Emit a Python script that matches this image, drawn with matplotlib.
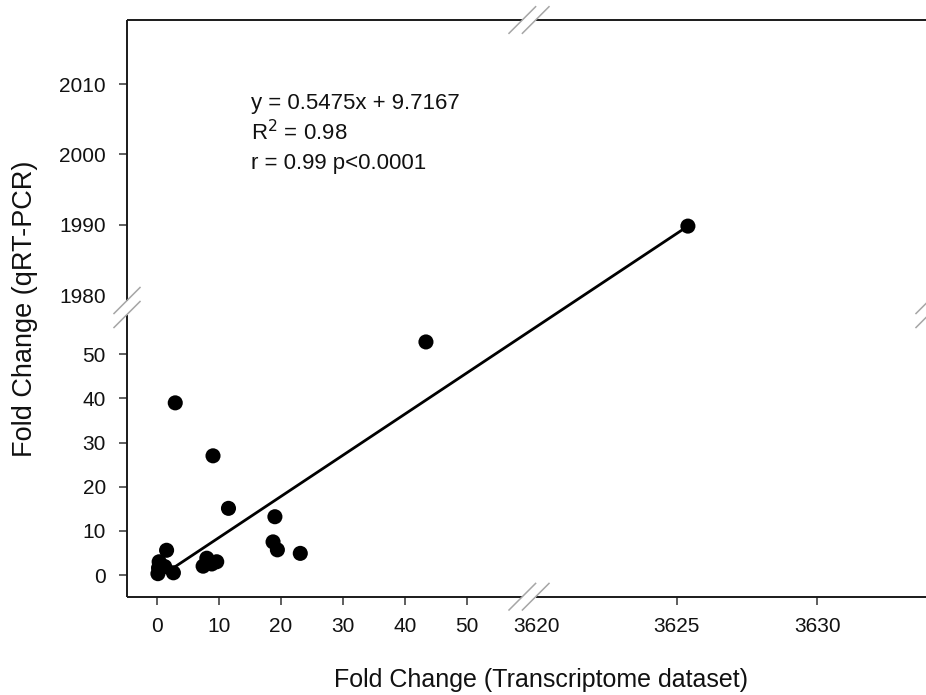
import numpy as np
import matplotlib
matplotlib.use('Agg')
import matplotlib.pyplot as plt
from matplotlib.lines import Line2D

plt.rcParams['font.family'] = ['Liberation Sans', 'DejaVu Sans']

# valores (transcriptoma vs qRT-PCR)
fold_transcriptoma = [0.1, 0.2, 0.3, 1.2, 1.5, 2.6, 2.9, 7.4, 8.0, 8.8, 9.6, 9.0,
                      11.5, 18.7, 19.0, 19.4, 23.1, 43.4, 3625.4]
fold_qpcr = [0.3, 1.6, 3.0, 1.9, 5.6, 0.5, 39.0, 2.0, 3.8, 2.5, 3.0, 27.0,
             15.1, 7.5, 13.2, 5.7, 4.9, 52.8, 1989.8]

# recta de regresion (extremos dibujados)
recta_x = [2.9, 3625.4]
recta_y = [1.9, 1989.8]

ticks_x = [0, 10, 20, 30, 40, 50, 3620, 3625, 3630]
ticks_y = [0, 10, 20, 30, 40, 50, 1980, 1990, 2000, 2010]
textos = ['y = 0.5475x + 9.7167', 'R$^2$ = 0.98', 'r = 0.99 p<0.0001']

W, H = 926, 695

# escalas con corte (en pixeles)
XP = [-1e4, 60, 3620, 1e5]
XF = [157.3 - 6.19e4, 157.3 + 6.19 * 60, 536, 536 + 28.13 * (1e5 - 3620)]
YP = [-1e4, 60, 1978, 1e5]
YF = [-4.414e4, 4.414 * 60, 280 - 7.03 * 2, 280 + 7.03 * (1e5 - 1980)]


def fx(v):
    return np.interp(v, XP, XF)


def ix(v):
    return np.interp(v, XF, XP)


def fy(v):
    return np.interp(v, YP, YF)


def iy(v):
    return np.interp(v, YF, YP)


izq, der, arriba, abajo = 127, 926, 20, 596.7

fig = plt.figure(figsize=(W / 100, H / 100), dpi=100)
ax = fig.add_axes([izq / W, (H - abajo) / H, (der - izq) / W, (abajo - arriba) / H])
ax.set_xscale('function', functions=(fx, ix))
ax.set_yscale('function', functions=(fy, iy))

ax.scatter(fold_transcriptoma, fold_qpcr, s=118, c='black', edgecolors='none', zorder=3)
ax.plot(recta_x, recta_y, color='black', lw=2.0, zorder=2)

ax.set_xlim(ix(izq), ix(der))
ax.set_ylim(iy(575 - abajo), iy(575 - arriba))

ax.set_xticks(ticks_x)
ax.set_xticklabels([str(t) for t in ticks_x])
ax.set_yticks(ticks_y)
ax.set_yticklabels([str(t) for t in ticks_y])
ax.tick_params(axis='both', direction='out', length=5.8, width=1.1, color='#333333',
               labelsize=15, labelcolor='#111111')
ax.tick_params(axis='x', pad=9)
ax.tick_params(axis='y', pad=9.5)
ax.xaxis.get_major_ticks()[ticks_x.index(3620)].tick1line.set_visible(False)
ax.yaxis.get_major_ticks()[ticks_y.index(1980)].tick1line.set_visible(False)

for s in ax.spines.values():
    s.set_visible(False)


def px(x, y):
    return x / W, (H - y) / H


def linea(x0, y0, x1, y1, **kw):
    a = px(x0, y0)
    b = px(x1, y1)
    fig.add_artist(Line2D([a[0], b[0]], [a[1], b[1]], transform=fig.transFigure, **kw))


ejes = dict(color='#1a1a1a', lw=1.4, solid_capstyle='butt')
# ejes con huecos del corte
linea(izq, arriba, 522.3, arriba, **ejes)
linea(535.7, arriba, der, arriba, **ejes)
linea(izq, abajo, 522.3, abajo, **ejes)
linea(535.7, abajo, der, abajo, **ejes)
linea(izq, arriba, izq, 300.5, **ejes)
linea(izq, 314.5, izq, abajo, **ejes)

marca = dict(color='#a6a6a6', lw=1.1)
for cx in (522.3, 535.7):
    for cy in (arriba, abajo):
        linea(cx - 13.3, cy + 13.3, cx + 13.3, cy - 13.3, **marca)
for cy in (300.5, 314.5):
    for cx in (izq, 929):
        linea(cx - 13, cy + 13, cx + 13, cy - 13, **marca)

for i, t in enumerate(textos):
    fig.text(251 / W, (H - (103 + 30 * i)) / H, t, ha='left', va='center', fontsize=16,
             color='#111111')

fig.text(541 / W, (H - 680) / H, 'Fold Change (Transcriptome dataset)', ha='center',
         va='center', fontsize=18, color='#111111')
fig.text(25 / W, (H - 309) / H, 'Fold Change (qRT-PCR)', ha='center', va='center',
         rotation=90, fontsize=19.5, color='#111111')

fig.savefig('out.png', dpi=100)
